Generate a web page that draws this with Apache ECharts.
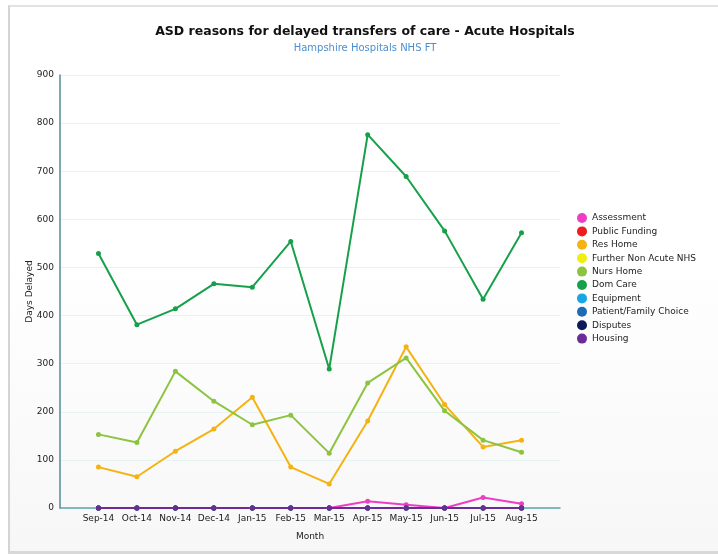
<!DOCTYPE html>
<html>
<head>
<meta charset="utf-8">
<script src="https://cdn.jsdelivr.net/npm/echarts@6/dist/echarts.min.js"></script>
<style>
  html, body { margin: 0; padding: 0; background: #ffffff; overflow: hidden; }
  #frame {
    position: absolute; left: 8px; top: 5px; width: 716px; height: 544px;
    border-left: 2px solid #d4d4d4; border-top: 2px solid #e2e2e2; border-bottom: 3px solid #d8d8d8;
    background: linear-gradient(to bottom, #ffffff 0%, #ffffff 45%, #f7f7f7 100%);
  }
  #chart { position: absolute; left: 0; top: 0; width: 718px; height: 554px; }
</style>
</head>
<body>
<div id="frame"></div>
<div id="chart"></div>
<script>
// Monthly delayed-transfer days by ASD reason
const months = ['Sep-14', 'Oct-14', 'Nov-14', 'Dec-14', 'Jan-15', 'Feb-15',
                'Mar-15', 'Apr-15', 'May-15', 'Jun-15', 'Jul-15', 'Aug-15'];

const assessment      = [0, 0, 0, 0, 0, 0, 0, 14, 7, 0, 22, 9];
const publicFunding   = [0, 0, 0, 0, 0, 0, 0, 0, 0, 0, 0, 0];
const resHome         = [85, 65, 118, 164, 230, 85, 50, 181, 335, 215, 127, 141];
const furtherNonAcute = [0, 0, 0, 0, 0, 0, 0, 0, 0, 0, 0, 0];
const nursHome        = [153, 136, 284, 222, 173, 193, 114, 260, 312, 202, 141, 116];
const domCare         = [529, 381, 414, 466, 459, 554, 289, 776, 689, 576, 434, 572];
const equipment       = [0, 0, 0, 0, 0, 0, 0, 0, 0, 0, 0, 0];
const patientChoice   = [0, 0, 0, 0, 0, 0, 0, 0, 0, 0, 0, 0];
const disputes        = [0, 0, 0, 0, 0, 0, 0, 0, 0, 0, 0, 0];
const housing         = [0, 0, 0, 0, 0, 0, 0, 0, 0, 0, 0, 0];

const yTicks = { min: 0, max: 900, interval: 100 };

const seriesDefs = [
  { name: 'Assessment',            data: assessment,      color: '#ec3fc6' },
  { name: 'Public Funding',        data: publicFunding,   color: '#ee1c1c' },
  { name: 'Res Home',              data: resHome,         color: '#f5b313' },
  { name: 'Further Non Acute NHS', data: furtherNonAcute, color: '#f0ee10' },
  { name: 'Nurs Home',             data: nursHome,        color: '#8cc43f' },
  { name: 'Dom Care',              data: domCare,         color: '#17a04a' },
  { name: 'Equipment',             data: equipment,       color: '#1aa6e4' },
  { name: 'Patient/Family Choice', data: patientChoice,   color: '#1c6bb4' },
  { name: 'Disputes',              data: disputes,        color: '#0c1a5a' },
  { name: 'Housing',               data: housing,         color: '#6a2d98' }
];

const font = 'DejaVu Sans, Verdana, sans-serif';

const chart = echarts.init(document.getElementById('chart'), null, { renderer: 'canvas' });
chart.setOption({
  backgroundColor: 'transparent',
  animation: false,
  title: {
    text: 'ASD reasons for delayed transfers of care - Acute Hospitals',
    subtext: 'Hampshire Hospitals NHS FT',
    left: 360, textAlign: 'center', top: 20, itemGap: 5,
    textStyle: { fontFamily: font, fontSize: 12.5, fontWeight: 'bold', color: '#111' },
    subtextStyle: { fontFamily: font, fontSize: 10, color: '#4a8fd1' }
  },
  legend: {
    orient: 'vertical', left: 572, top: 208,
    itemWidth: 10, itemHeight: 10, itemGap: 3.4, icon: 'circle',
    textStyle: { fontFamily: font, fontSize: 9, color: '#222' },
    data: seriesDefs.map(s => s.name)
  },
  grid: { left: 60, right: 158, top: 75, bottom: 46 },
  xAxis: {
    type: 'value', min: -1, max: 12, interval: 1,
    name: 'Month', nameLocation: 'middle', nameGap: 24,
    nameTextStyle: { fontFamily: font, fontSize: 9, color: '#222' },
    axisLine: { onZero: false, lineStyle: { color: '#5aa6a8', width: 1.5 } },
    axisTick: { show: false },
    splitLine: { show: false },
    axisLabel: {
      fontFamily: font, fontSize: 9, color: '#222', margin: 6,
      formatter: v => months[v] || ''
    }
  },
  yAxis: {
    type: 'value', min: yTicks.min, max: yTicks.max, interval: yTicks.interval,
    name: 'Days Delayed', nameLocation: 'middle', nameGap: 26, nameMoveOverlap: false,
    nameTextStyle: { fontFamily: font, fontSize: 9, color: '#222' },
    axisLine: { show: true, onZero: false, lineStyle: { color: '#4f8e99', width: 1.5 } },
    axisTick: { show: false },
    axisLabel: { fontFamily: font, fontSize: 9, color: '#222', margin: 6 },
    splitLine: { lineStyle: { color: '#e6f3f3', width: 1 } }
  },
  series: seriesDefs.map(s => ({
    name: s.name, type: 'line',
    data: s.data.map((v, i) => [i, v]),
    symbol: 'circle', symbolSize: 5,
    itemStyle: { color: s.color },
    lineStyle: { color: s.color, width: 2 }
  }))
});
</script>
</body>
</html>
